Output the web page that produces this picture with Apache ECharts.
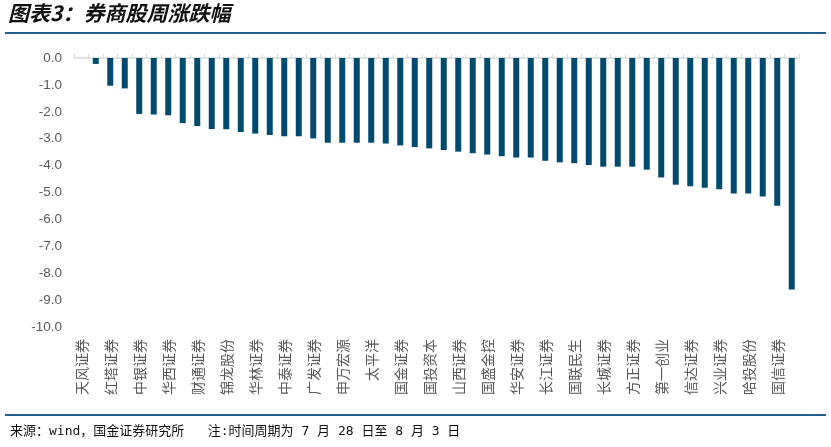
<!DOCTYPE html>
<html>
<head>
<meta charset="utf-8">
<script src="https://cdn.jsdelivr.net/npm/echarts@6/dist/echarts.min.js"></script>
<style>
  html, body { margin: 0; padding: 0; background: #fff; }
  #chart { width: 831px; height: 447px; }
</style>
</head>
<body>
<div id="chart"></div>
<script>
// 类目：只有偶数位的名称在图上显示，奇数位留空
var brokers = [
  '天风证券', '', '红塔证券', '', '中银证券', '', '华西证券', '', '财通证券', '',
  '锦龙股份', '', '华林证券', '', '中泰证券', '', '广发证券', '', '申万宏源', '',
  '太平洋', '', '国金证券', '', '国投资本', '', '山西证券', '', '国盛金控', '',
  '华安证券', '', '长江证券', '', '国联民生', '', '长城证券', '', '方正证券', '',
  '第一创业', '', '信达证券', '', '兴业证券', '', '哈投股份', '', '国信证券', ''
];
// 周涨跌幅(%)
var weekChange = [
  0.00, -0.22, -1.03, -1.13, -2.08, -2.10, -2.13, -2.42, -2.53, -2.64,
  -2.65, -2.75, -2.81, -2.86, -2.91, -2.91, -2.99, -3.15, -3.15, -3.15,
  -3.15, -3.18, -3.25, -3.31, -3.36, -3.42, -3.48, -3.54, -3.59, -3.65,
  -3.70, -3.70, -3.82, -3.88, -3.91, -3.98, -4.04, -4.04, -4.04, -4.15,
  -4.44, -4.71, -4.77, -4.82, -4.88, -5.04, -5.04, -5.15, -5.49, -8.61
];
var yMin = -10, yMax = 0, yStep = 1;

var titleText = '图表3：券商股周涨跌幅';
var noteText = '来源：wind，国金证券研究所   注:时间周期为 7 月 28 日至 8 月 3 日';

var blue = '#004a6e';
var lineBlue = '#1f5f8b';
var gray = '#595959';
var font = '"Liberation Sans", "Noto Sans CJK SC", sans-serif';

var myChart = echarts.init(document.getElementById('chart'));
var option = {
  backgroundColor: '#fff',
  animation: false,
  grid: { left: 74, right: 32, top: 58, bottom: 120, containLabel: false },
  xAxis: [
    { // 底部标签
      type: 'category',
      position: 'bottom',
      data: brokers,
      axisLine: { show: false, onZero: false },
      axisTick: { show: false },
      axisLabel: {
        interval: 1,
        rotate: 90,
        margin: 12,
        color: gray,
        fontSize: 14,
        fontFamily: '"Noto Sans CJK SC", sans-serif'
      },
      splitLine: { show: false }
    },
    { // 顶部0轴线
      type: 'category',
      position: 'top',
      data: brokers,
      axisLine: { show: true, lineStyle: { color: '#d9d9d9', width: 1.5 } },
      axisTick: { show: true, interval: 0, length: 4, lineStyle: { color: '#d9d9d9' } },
      axisLabel: { show: false },
      splitLine: { show: false }
    }
  ],
  yAxis: {
    type: 'value',
    min: yMin,
    max: yMax,
    interval: yStep,
    axisLine: { show: false },
    axisTick: { show: false },
    splitLine: { show: false },
    axisLabel: {
      margin: 12,
      color: gray,
      fontSize: 13.5,
      fontFamily: font,
      formatter: function (v) { return v.toFixed(1); }
    }
  },
  series: [{
    type: 'bar',
    xAxisIndex: 0,
    data: weekChange,
    barWidth: 6,
    itemStyle: { color: blue }
  }],
  graphic: [
    {
      type: 'text', left: 8, top: 3,
      style: {
        text: titleText,
        fill: '#111',
        font: 'italic bold 21px "Noto Sans CJK SC", sans-serif'
      }
    },
    {
      type: 'rect', shape: { x: 5, y: 32, width: 821, height: 2 },
      style: { fill: lineBlue }
    },
    {
      type: 'rect', shape: { x: 5, y: 414, width: 821, height: 2 },
      style: { fill: lineBlue }
    },
    {
      type: 'text', left: 10, top: 425,
      style: {
        text: noteText,
        fill: '#111',
        font: '13px "DejaVu Sans Mono", "Noto Sans CJK SC", monospace'
      }
    }
  ]
};
myChart.setOption(option, true);
window.onresize = myChart.resize;
</script>
</body>
</html>
